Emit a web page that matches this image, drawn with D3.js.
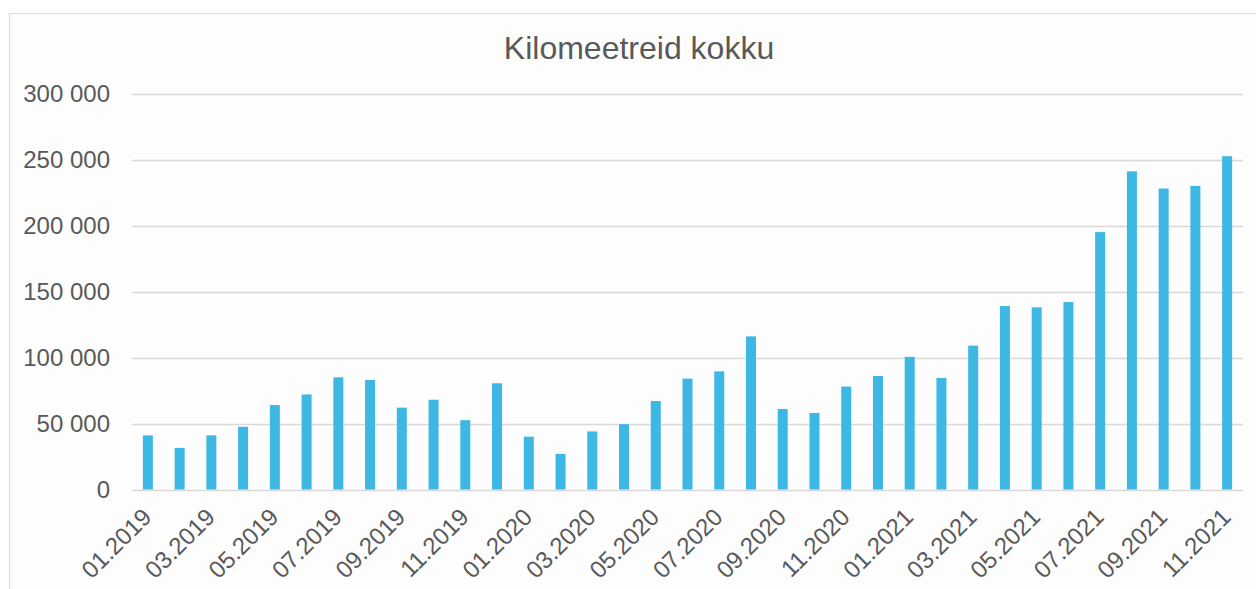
<!DOCTYPE html>
<html>
<head>
<meta charset="utf-8">
<script src="https://cdn.jsdelivr.net/npm/d3@7"></script>
<style>
  body { margin: 0; background: #ffffff; }
  svg { display: block; font-family: "Liberation Sans", Arial, sans-serif; }
</style>
</head>
<body>
<div id="chart"></div>
<script>
var width = 1256,
    height = 589,
    margin = {left: 132, right: 13, top: 93.5, bottom: 99.5};

// data
var months = ["01.2019","02.2019","03.2019","04.2019","05.2019","06.2019","07.2019","08.2019","09.2019","10.2019","11.2019","12.2019",
              "01.2020","02.2020","03.2020","04.2020","05.2020","06.2020","07.2020","08.2020","09.2020","10.2020","11.2020","12.2020",
              "01.2021","02.2021","03.2021","04.2021","05.2021","06.2021","07.2021","08.2021","09.2021","10.2021","11.2021"];
var km = [41000, 31500, 41000, 47500, 64000, 72000, 85000, 83000, 62000, 68000, 52500, 80500,
          40000, 27000, 44000, 49500, 67000, 84000, 89500, 116000, 61000, 58000, 78000, 86000,
          100500, 84500, 109000, 139000, 138000, 142000, 195000, 241000, 228000, 230000, 252500];
var yTicks = [0, 50000, 100000, 150000, 200000, 250000, 300000];
var title = "Kilomeetreid kokku";

var svg = d3.select("#chart")
    .append("svg")
    .attr("width", width)
    .attr("height", height);

// chart area frame
svg.append("rect")
    .attr("x", 9.5)
    .attr("y", 13.5)
    .attr("width", width)
    .attr("height", height)
    .attr("fill", "#fdfdfd")
    .attr("stroke", "#d9d9d9")
    .attr("stroke-width", 1);

var x = d3.scaleBand()
    .domain(months)
    .range([margin.left, width - margin.right])
    .paddingInner(0.685)
    .paddingOuter(0.3425);

var y = d3.scaleLinear()
    .domain([0, 300000])
    .range([height - margin.bottom, margin.top]);

var fmt = function(v) { return d3.format(",")(v).replace(/,/g, " "); };

// gridlines
svg.append("g")
    .selectAll("line")
    .data(yTicks)
    .join("line")
    .attr("x1", margin.left)
    .attr("x2", width - margin.right)
    .attr("y1", function(d) { return Math.round(y(d)) + 0.5; })
    .attr("y2", function(d) { return Math.round(y(d)) + 0.5; })
    .attr("stroke", "#d9d9d9")
    .attr("stroke-width", 1.5);

// y axis labels
var yAxis = svg.append("g")
    .attr("transform", "translate(" + (margin.left - 22) + ",0)")
    .call(d3.axisLeft(y).tickValues(yTicks).tickFormat(fmt).tickSize(0).tickPadding(0));
yAxis.select(".domain").remove();
yAxis.selectAll("text")
    .attr("fill", "#595959")
    .style("font-size", "24px")
    .style("font-family", "Liberation Sans, Arial, sans-serif");

// bars
svg.append("g")
    .selectAll("rect")
    .data(km)
    .join("rect")
    .attr("x", function(d, i) { return x(months[i]); })
    .attr("width", x.bandwidth())
    .attr("y", function(d) { return y(d); })
    .attr("height", function(d) { return y(0) - y(d); })
    .attr("fill", "#3db8e4");

// x axis labels, every second month
var xAxis = svg.append("g")
    .attr("transform", "translate(0," + y(0) + ")")
    .call(d3.axisBottom(x)
        .tickValues(months.filter(function(d, i) { return i % 2 === 0; }))
        .tickSize(0)
        .tickPadding(0));
xAxis.select(".domain").remove();
xAxis.selectAll("text")
    .attr("fill", "#595959")
    .style("font-size", "24px")
    .style("font-family", "Liberation Sans, Arial, sans-serif")
    .attr("text-anchor", "end")
    .attr("dy", "0")
    .attr("y", 0)
    .attr("transform", "translate(5,29) rotate(-45)");

// title
svg.append("text")
    .attr("x", 639)
    .attr("y", 59)
    .attr("text-anchor", "middle")
    .attr("fill", "#595959")
    .style("font-size", "32px")
    .text(title);
</script>
</body>
</html>
